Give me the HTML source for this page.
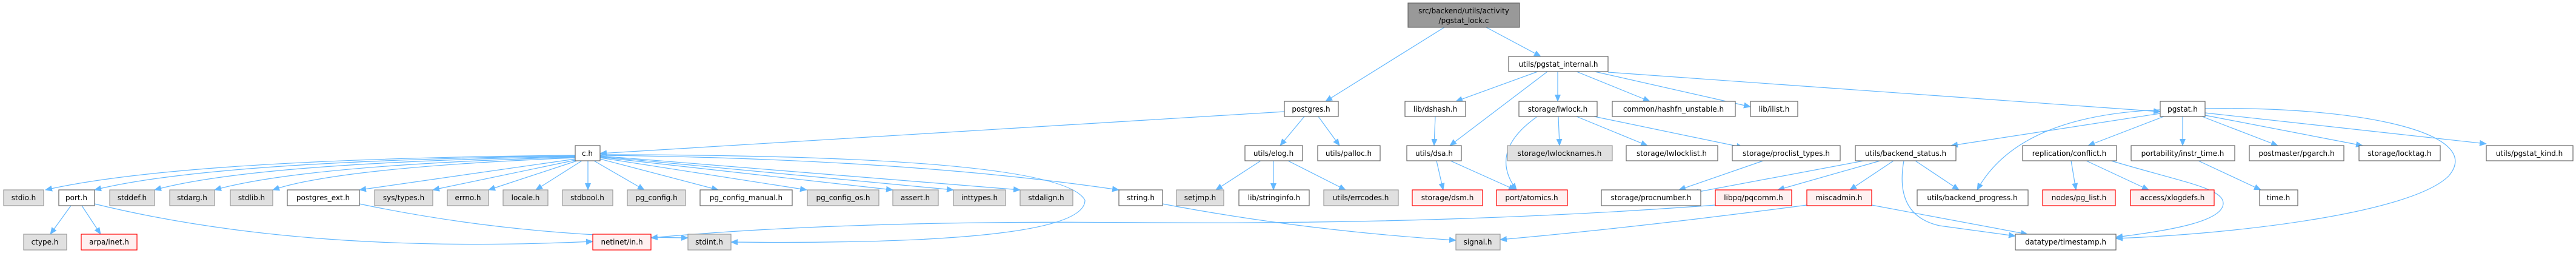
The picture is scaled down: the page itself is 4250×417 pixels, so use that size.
<!DOCTYPE html>
<html><head><meta charset="utf-8"><style>
html,body{margin:0;padding:0;background:#fff;}
svg{display:block;}
text{font-family:"DejaVu Sans","Liberation Sans",sans-serif;font-size:12px;fill:#000;text-anchor:middle;}
.w{fill:#fff;stroke:#666;stroke-width:1.2;}
.g{fill:#e0e0e0;stroke:#999;stroke-width:1.2;}
.r{fill:#fff0f0;stroke:#f00;stroke-width:1.2;}
.t{fill:#999;stroke:#666;stroke-width:1.2;}
path{fill:none;stroke:#63b8ff;stroke-width:1.2;}
</style></head><body>
<svg width="4250" height="417" viewBox="0 0 4250 417" xmlns="http://www.w3.org/2000/svg">
<defs><marker id="a" markerWidth="12" markerHeight="10" refX="11" refY="5" orient="auto" markerUnits="userSpaceOnUse"><polygon points="0,0 12,5 0,10" fill="#63b8ff"/></marker></defs>
<g marker-end="url(#a)">
<path d="M949,256 Q300,262 75,313"/>
<path d="M949,257 Q350,265 156,313"/>
<path d="M949,258 Q420,268 255,313"/>
<path d="M949,259 Q500,272 354,313"/>
<path d="M949,260 Q560,276 450,313"/>
<path d="M949,262 L593,313"/>
<path d="M949,264 L714,313"/>
<path d="M952,265 L806,313"/>
<path d="M960,265 L884,313"/>
<path d="M970,265 L970,313"/>
<path d="M980,265 L1063,313"/>
<path d="M990,262 L1185,313"/>
<path d="M990,260 L1331,313"/>
<path d="M990,259 L1473,313"/>
<path d="M990,258 L1573,313"/>
<path d="M990,257 L1683,313"/>
<path d="M990,256 Q1500,262 1846,313"/>
<path d="M990,255 Q1750,255 1790,330 Q1790,405 1206,399"/>
<path d="M2119,184 L990,253"/>
<path d="M2383,45 L2187,167"/>
<path d="M2452,45 L2542,93"/>
<path d="M2152,192 L2112,240"/>
<path d="M2175,192 L2210,240"/>
<path d="M2080,265 L2006,313"/>
<path d="M2101,265 L2101,313"/>
<path d="M2125,265 L2220,313"/>
<path d="M117,339 L83,386"/>
<path d="M135,339 L166,386"/>
<path d="M156,336 Q500,420 978,398"/>
<path d="M593,336 Q850,390 1135,392"/>
<path d="M2830,338 Q2400,370 1900,367 Q1400,362 1074,392"/>
<path d="M1918,336 Q2150,380 2402,396"/>
<path d="M2981,338 Q2700,375 2475,395"/>
<path d="M2537,118 L2402,167"/>
<path d="M2553,118 L2392,240"/>
<path d="M2570,118 L2570,167"/>
<path d="M2601,118 L2722,167"/>
<path d="M2631,118 L2888,176"/>
<path d="M2653,119 L3564,184"/>
<path d="M2368,192 L2366,240"/>
<path d="M2370,265 L2381,313"/>
<path d="M2393,265 L2500,313"/>
<path d="M2535,193 Q2455,250 2502,313"/>
<path d="M2571,192 L2573,240"/>
<path d="M2601,192 L2718,240"/>
<path d="M2630,192 L2876,243"/>
<path d="M2909,265 L2770,313"/>
<path d="M3075,265 L2792,318"/>
<path d="M3102,265 L2933,313"/>
<path d="M3124,265 L3052,313"/>
<path d="M3160,265 L3232,313"/>
<path d="M3141,265 Q3125,355 3200,372 L3325,389"/>
<path d="M3088,338 L3345,386"/>
<path d="M3564,187 L3219,240"/>
<path d="M3564,181 Q3330,190 3262,313"/>
<path d="M3570,192 L3445,240"/>
<path d="M3601,192 L3601,240"/>
<path d="M3633,192 L3758,240"/>
<path d="M3638,190 L3898,240"/>
<path d="M3638,186 L4102,237"/>
<path d="M3638,179 C3900,175 4100,220 4040,290 C3980,350 3700,385 3491,393"/>
<path d="M3417,265 L3425,313"/>
<path d="M3442,265 L3545,313"/>
<path d="M3483,265 C3600,300 3668,310 3668,335 C3668,365 3580,380 3491,391"/>
<path d="M3627,265 L3730,313"/>
</g>
<rect class="t" x="2323" y="5" width="184" height="40"/><text x="2415" y="22">src/backend/utils/activity</text><text x="2415" y="38">/pgstat_lock.c</text>
<rect class="w" x="2489" y="93" width="164" height="25"/><text x="2571" y="110">utils/pgstat_internal.h</text>

<rect class="w" x="2119" y="167" width="89" height="25"/><text x="2163" y="184">postgres.h</text>
<rect class="w" x="2318" y="167" width="100" height="25"/><text x="2368" y="184">lib/dshash.h</text>
<rect class="w" x="2506" y="167" width="129" height="25"/><text x="2570" y="184">storage/lwlock.h</text>
<rect class="w" x="2660" y="167" width="203" height="25"/><text x="2761" y="184">common/hashfn_unstable.h</text>
<rect class="w" x="2888" y="167" width="78" height="25"/><text x="2927" y="184">lib/ilist.h</text>
<rect class="w" x="3564" y="167" width="74" height="25"/><text x="3601" y="184">pgstat.h</text>

<rect class="w" x="949" y="240" width="41" height="25"/><text x="969" y="257">c.h</text>
<rect class="w" x="2054" y="240" width="95" height="25"/><text x="2101" y="257">utils/elog.h</text>
<rect class="w" x="2174" y="240" width="103" height="25"/><text x="2225" y="257">utils/palloc.h</text>
<rect class="w" x="2321" y="240" width="90" height="25"/><text x="2366" y="257">utils/dsa.h</text>
<rect class="g" x="2487" y="240" width="173" height="25"/><text x="2573" y="257">storage/lwlocknames.h</text>
<rect class="w" x="2683" y="240" width="151" height="25"/><text x="2758" y="257">storage/lwlocklist.h</text>
<rect class="w" x="2858" y="240" width="178" height="25"/><text x="2947" y="257">storage/proclist_types.h</text>
<rect class="w" x="3061" y="240" width="166" height="25"/><text x="3144" y="257">utils/backend_status.h</text>
<rect class="w" x="3337" y="240" width="155" height="25"/><text x="3414" y="257">replication/conflict.h</text>
<rect class="w" x="3516" y="240" width="171" height="25"/><text x="3601" y="257">portability/instr_time.h</text>
<rect class="w" x="3711" y="240" width="156" height="25"/><text x="3789" y="257">postmaster/pgarch.h</text>
<rect class="w" x="3892" y="240" width="134" height="25"/><text x="3959" y="257">storage/locktag.h</text>
<rect class="w" x="4102" y="240" width="143" height="25"/><text x="4173" y="257">utils/pgstat_kind.h</text>

<rect class="g" x="6" y="313" width="66" height="26"/><text x="39" y="330">stdio.h</text>
<rect class="w" x="97" y="313" width="59" height="26"/><text x="126" y="330">port.h</text>
<rect class="g" x="181" y="313" width="74" height="26"/><text x="218" y="330">stddef.h</text>
<rect class="g" x="280" y="313" width="74" height="26"/><text x="317" y="330">stdarg.h</text>
<rect class="g" x="380" y="313" width="70" height="26"/><text x="415" y="330">stdlib.h</text>
<rect class="w" x="474" y="313" width="119" height="26"/><text x="533" y="330">postgres_ext.h</text>
<rect class="g" x="618" y="313" width="96" height="26"/><text x="666" y="330">sys/types.h</text>
<rect class="g" x="738" y="313" width="68" height="26"/><text x="772" y="330">errno.h</text>
<rect class="g" x="830" y="313" width="74" height="26"/><text x="867" y="330">locale.h</text>
<rect class="g" x="928" y="313" width="83" height="26"/><text x="969" y="330">stdbool.h</text>
<rect class="g" x="1035" y="313" width="96" height="26"/><text x="1083" y="330">pg_config.h</text>
<rect class="w" x="1155" y="313" width="152" height="26"/><text x="1231" y="330">pg_config_manual.h</text>
<rect class="g" x="1332" y="313" width="118" height="26"/><text x="1391" y="330">pg_config_os.h</text>
<rect class="g" x="1473" y="313" width="75" height="26"/><text x="1510" y="330">assert.h</text>
<rect class="g" x="1573" y="313" width="86" height="26"/><text x="1616" y="330">inttypes.h</text>
<rect class="g" x="1683" y="313" width="87" height="26"/><text x="1726" y="330">stdalign.h</text>
<rect class="w" x="1846" y="313" width="72" height="26"/><text x="1882" y="330">string.h</text>
<rect class="g" x="1941" y="313" width="78" height="26"/><text x="1980" y="330">setjmp.h</text>
<rect class="w" x="2044" y="313" width="116" height="26"/><text x="2102" y="330">lib/stringinfo.h</text>
<rect class="g" x="2184" y="313" width="123" height="26"/><text x="2245" y="330">utils/errcodes.h</text>
<rect class="r" x="2330" y="313" width="116" height="26"/><text x="2388" y="330">storage/dsm.h</text>
<rect class="r" x="2469" y="313" width="117" height="26"/><text x="2527" y="330">port/atomics.h</text>
<rect class="w" x="2642" y="313" width="164" height="26"/><text x="2724" y="330">storage/procnumber.h</text>
<rect class="r" x="2830" y="313" width="126" height="26"/><text x="2893" y="330">libpq/pqcomm.h</text>
<rect class="r" x="2981" y="313" width="107" height="26"/><text x="3034" y="330">miscadmin.h</text>
<rect class="w" x="3163" y="313" width="183" height="26"/><text x="3254" y="330">utils/backend_progress.h</text>
<rect class="r" x="3370" y="313" width="120" height="26"/><text x="3430" y="330">nodes/pg_list.h</text>
<rect class="r" x="3515" y="313" width="138" height="26"/><text x="3584" y="330">access/xlogdefs.h</text>
<rect class="w" x="3728" y="313" width="63" height="26"/><text x="3759" y="330">time.h</text>

<rect class="g" x="39" y="386" width="71" height="26"/><text x="74" y="403">ctype.h</text>
<rect class="r" x="134" y="386" width="92" height="26"/><text x="180" y="403">arpa/inet.h</text>
<rect class="r" x="978" y="386" width="96" height="26"/><text x="1026" y="403">netinet/in.h</text>
<rect class="g" x="1135" y="386" width="71" height="26"/><text x="1170" y="403">stdint.h</text>
<rect class="g" x="2402" y="386" width="73" height="26"/><text x="2438" y="403">signal.h</text>
<rect class="w" x="3325" y="386" width="166" height="26"/><text x="3408" y="403">datatype/timestamp.h</text>
</svg>
</body></html>
